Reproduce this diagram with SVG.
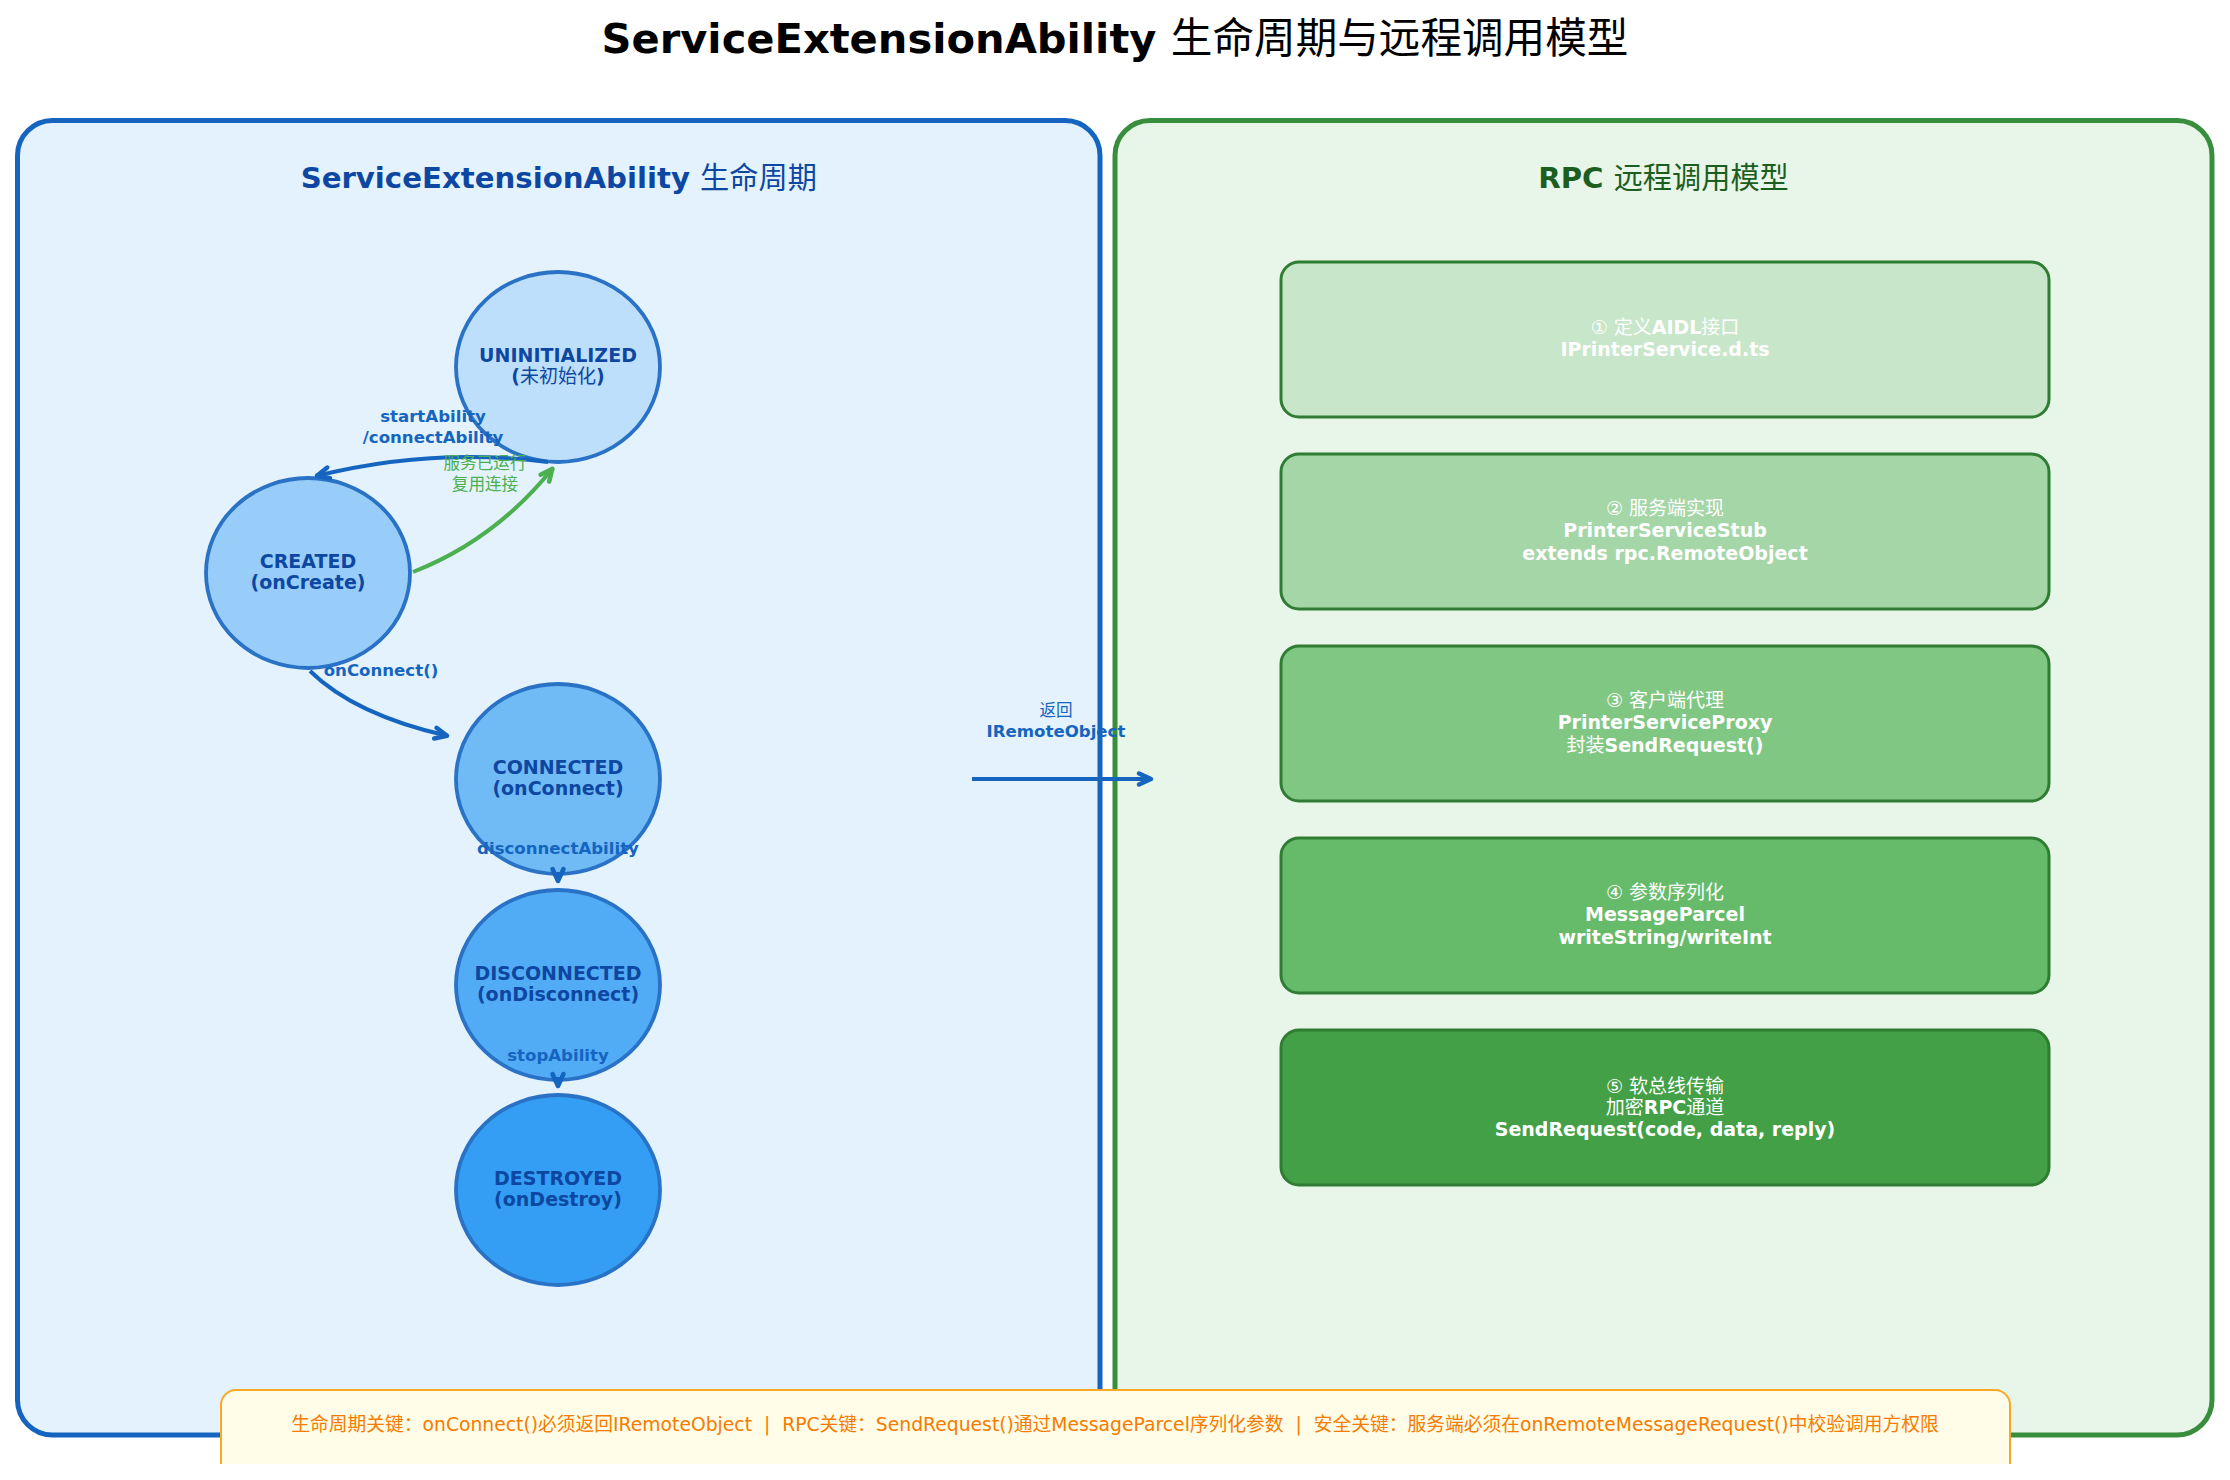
<svg xmlns="http://www.w3.org/2000/svg" width="2230" height="1480" viewBox="0 0 2230 1480">
<style>
text{font-family:'DejaVu Sans','Noto Sans CJK SC',sans-serif}
.n{font-weight:normal}
.node ellipse{stroke:#1565c0;stroke-width:3.8;opacity:0.9}
.nt{font-size:19px;font-weight:bold;fill:#0d47a1;text-anchor:middle}
.box rect{stroke:#2e7d32;stroke-width:3}
.bt{font-size:19px;font-weight:bold;fill:#ffffff;text-anchor:middle}
.el{font-size:16.6px;font-weight:bold;fill:#1565c0;text-anchor:middle}
.eg{font-size:16.6px;fill:#4caf50;text-anchor:middle}
.cb{fill:none;stroke:#1565c0;stroke-width:4}
.cg{fill:none;stroke:#4caf50;stroke-width:4}
</style>
<defs>
<marker id="mb" markerUnits="userSpaceOnUse" viewBox="-16 -9 20 18" markerWidth="20" markerHeight="18" refX="0" refY="0" orient="auto" overflow="visible">
<path d="M-13,-5.5 L-1,0 L-13,5.5" fill="none" stroke="#1565c0" stroke-width="4.5" stroke-linecap="round" stroke-linejoin="round"/>
</marker>
<marker id="mg" markerUnits="userSpaceOnUse" viewBox="-16 -9 20 18" markerWidth="20" markerHeight="18" refX="0" refY="0" orient="auto" overflow="visible">
<path d="M-13,-5.5 L-1,0 L-13,5.5" fill="none" stroke="#4caf50" stroke-width="4.5" stroke-linecap="round" stroke-linejoin="round"/>
</marker>
<clipPath id="clipNote"><rect x="0" y="0" width="2230" height="1464"/></clipPath>
</defs>
<rect x="0" y="0" width="2230" height="1480" fill="#ffffff"/>
<text x="1115" y="53" font-size="41.6" font-weight="bold" text-anchor="middle" fill="#000000">ServiceExtensionAbility <tspan class="n">生命周期与远程调用模型</tspan></text>

<g id="panel-lifecycle">
<rect x="17.5" y="120.5" width="1082.5" height="1314.5" rx="35" fill="#e3f2fd" stroke="#1565c0" stroke-width="5"/>
<text x="558.75" y="188" font-size="29.2" font-weight="bold" fill="#0d47a1" text-anchor="middle">ServiceExtensionAbility <tspan class="n">生命周期</tspan></text>
</g>
<g id="panel-rpc">
<rect x="1115" y="120.5" width="1097" height="1314.5" rx="35" fill="#e8f5e9" stroke="#388e3c" stroke-width="5"/>
<text x="1663.5" y="188" font-size="29.2" font-weight="bold" fill="#1b5e20" text-anchor="middle">RPC <tspan class="n">远程调用模型</tspan></text>
</g>

<g id="node-uninitialized" class="node">
<ellipse cx="558" cy="367" rx="102" ry="95" fill="#bbdefb"/>
<text class="nt" x="558" y="362">UNINITIALIZED</text>
<text class="nt" x="558" y="383">(<tspan class="n">未初始化</tspan>)</text>
</g>
<g id="node-created" class="node">
<ellipse cx="308" cy="573" rx="102" ry="95" fill="#90caf9"/>
<text class="nt" x="308" y="568">CREATED</text>
<text class="nt" x="308" y="589">(onCreate)</text>
</g>
<g id="node-connected" class="node">
<ellipse cx="558" cy="779" rx="102" ry="95" fill="#64b5f6"/>
<text class="nt" x="558" y="774">CONNECTED</text>
<text class="nt" x="558" y="795">(onConnect)</text>
</g>
<g id="node-disconnected" class="node">
<ellipse cx="558" cy="985" rx="102" ry="95" fill="#42a5f5"/>
<text class="nt" x="558" y="980">DISCONNECTED</text>
<text class="nt" x="558" y="1001">(onDisconnect)</text>
</g>
<g id="node-destroyed" class="node">
<ellipse cx="558" cy="1190" rx="102" ry="95" fill="#2196f3"/>
<text class="nt" x="558" y="1185">DESTROYED</text>
<text class="nt" x="558" y="1206">(onDestroy)</text>
</g>

<g id="rpc-step1" class="box">
<rect x="1281" y="262" width="768" height="155" rx="18" fill="#c8e6c9"/>
<text class="bt" x="1665" y="334"><tspan class="n">① 定义</tspan>AIDL<tspan class="n">接口</tspan></text>
<text class="bt" x="1665" y="356">IPrinterService.d.ts</text>
</g>
<g id="rpc-step2" class="box">
<rect x="1281" y="454" width="768" height="155" rx="18" fill="#a5d6a7"/>
<text class="bt" x="1665" y="514.5"><tspan class="n">② 服务端实现</tspan></text>
<text class="bt" x="1665" y="537">PrinterServiceStub</text>
<text class="bt" x="1665" y="559.5">extends rpc.RemoteObject</text>
</g>
<g id="rpc-step3" class="box">
<rect x="1281" y="646" width="768" height="155" rx="18" fill="#81c784"/>
<text class="bt" x="1665" y="706.5"><tspan class="n">③ 客户端代理</tspan></text>
<text class="bt" x="1665" y="729">PrinterServiceProxy</text>
<text class="bt" x="1665" y="751.5"><tspan class="n">封装</tspan>SendRequest()</text>
</g>
<g id="rpc-step4" class="box">
<rect x="1281" y="838" width="768" height="155" rx="18" fill="#66bb6a"/>
<text class="bt" x="1665" y="898.5"><tspan class="n">④ 参数序列化</tspan></text>
<text class="bt" x="1665" y="921">MessageParcel</text>
<text class="bt" x="1665" y="943.5">writeString/writeInt</text>
</g>
<g id="rpc-step5" class="box">
<rect x="1281" y="1030" width="768" height="155" rx="18" fill="#43a047"/>
<text class="bt" x="1665" y="1093"><tspan class="n">⑤ 软总线传输</tspan></text>
<text class="bt" x="1665" y="1113.5"><tspan class="n">加密</tspan>RPC<tspan class="n">通道</tspan></text>
<text class="bt" x="1665" y="1135.5">SendRequest(code, data, reply)</text>
</g>

<g id="connectors">
<path class="cb" d="M548,462 Q432,447 316,476" marker-end="url(#mb)"/>
<text class="el" x="433" y="422">startAbility</text>
<text class="el" x="433" y="443">/connectAbility</text>
<path class="cg" d="M413,572 Q495,540 553,468" marker-end="url(#mg)"/>
<text class="eg" x="485" y="469">服务已运行</text>
<text class="eg" x="485" y="490">复用连接</text>
<path class="cb" d="M310,671 Q355,715 448,736" marker-end="url(#mb)"/>
<text class="el" x="381" y="676">onConnect()</text>
<path class="cb" d="M558,872 L558,882" marker-end="url(#mb)"/>
<text class="el" x="558" y="854">disconnectAbility</text>
<path class="cb" d="M558,1077 L558,1087" marker-end="url(#mb)"/>
<text class="el" x="558" y="1061">stopAbility</text>
<path class="cb" d="M972,779 L1152,779" marker-end="url(#mb)"/>
<text class="el" x="1056" y="716"><tspan class="n">返回</tspan></text>
<text class="el" x="1056" y="737">IRemoteObject</text>
</g>

<g id="note" clip-path="url(#clipNote)">
<rect x="221" y="1390" width="1789" height="110" rx="15" fill="#fffde7" stroke="#f9a825" stroke-width="2"/>
<text x="1115" y="1431" font-size="18.75" fill="#f57c00" text-anchor="middle" xml:space="preserve">生命周期关键：onConnect()必须返回IRemoteObject  |  RPC关键：SendRequest()通过MessageParcel序列化参数  |  安全关键：服务端必须在onRemoteMessageRequest()中校验调用方权限</text>
</g>
</svg>
